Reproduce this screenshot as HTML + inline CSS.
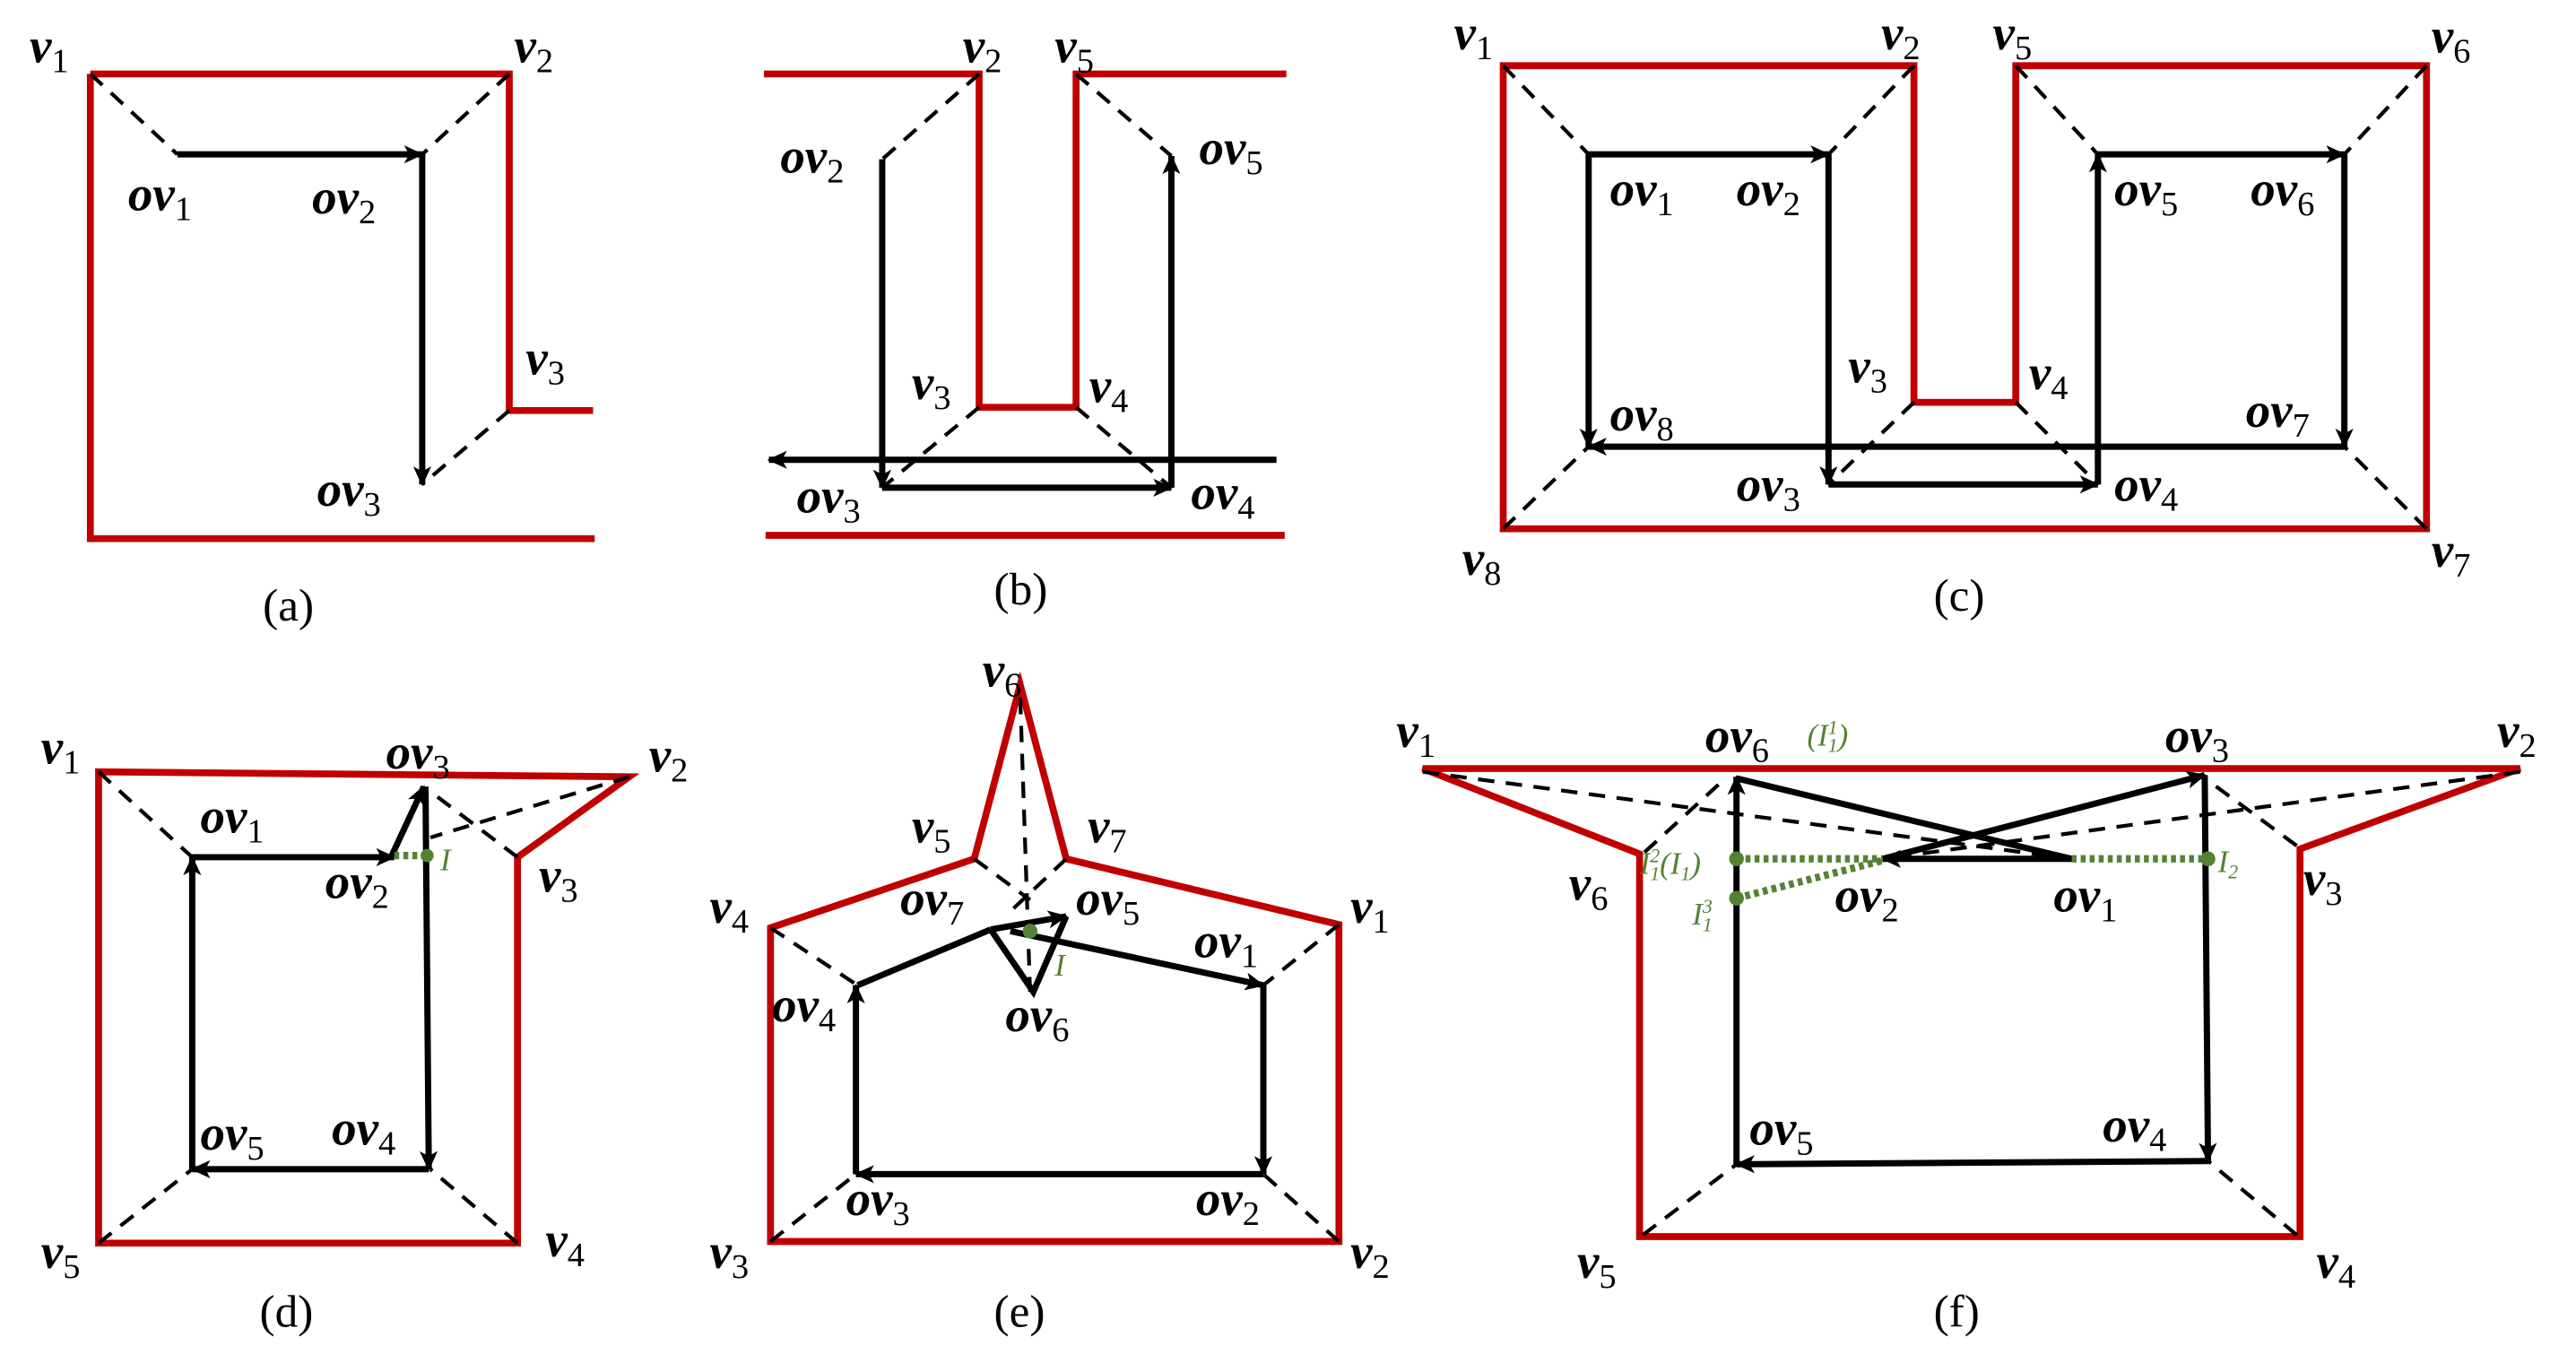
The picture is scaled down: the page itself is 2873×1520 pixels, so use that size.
<!DOCTYPE html>
<html><head><meta charset="utf-8"><style>
html,body{margin:0;padding:0;background:#fff;}
svg{display:block;}
text{font-family:"Liberation Serif",serif;}
.v{font-weight:bold;font-style:italic;font-size:30px;}
.s{font-size:21px;font-weight:normal;font-style:normal;}
.cap{font-size:28px;}
.r{fill:none;stroke:#c00000;stroke-width:4.2;stroke-linejoin:miter;}
.k{fill:none;stroke:#000;stroke-width:3.8;}
.d{fill:none;stroke:#000;stroke-width:2.3;stroke-dasharray:10,7;}
.g{fill:none;stroke:#548235;stroke-width:4.5;stroke-dasharray:3,2.5;}
.gt{fill:#548235;font-style:italic;font-size:19px;}
</style></head><body>
<svg width="2873" height="1520" viewBox="0 0 1568 830" preserveAspectRatio="none">
<defs>
<marker id="a" markerWidth="13" markerHeight="11" refX="11" refY="5.5" orient="auto" markerUnits="userSpaceOnUse">
<path d="M0,0 L12,5.5 L0,11 L3,5.5 Z" fill="#000"/></marker>
</defs>

<!-- (a) -->
<polyline class="r" points="55,45 310,45 310,250 361,250"/>
<polyline class="r" points="55,45 55,328 362,328"/>
<line class="d" x1="55" y1="45" x2="108" y2="94"/>
<line class="d" x1="310" y1="45" x2="257" y2="94"/>
<line class="d" x1="310" y1="250" x2="257" y2="295"/>
<line class="k" x1="108" y1="94" x2="257" y2="94" marker-end="url(#a)"/>
<line class="k" x1="257" y1="94" x2="257" y2="295" stroke-width="2.8" marker-end="url(#a)"/>
<text class="v" x="18" y="38">v<tspan class="s" dy="6">1</tspan></text>
<text class="v" x="313" y="38">v<tspan class="s" dy="6">2</tspan></text>
<text class="v" x="320" y="228">v<tspan class="s" dy="6">3</tspan></text>
<text class="v" x="78" y="128">ov<tspan class="s" dy="6">1</tspan></text>
<text class="v" x="190" y="130">ov<tspan class="s" dy="6">2</tspan></text>
<text class="v" x="193" y="308">ov<tspan class="s" dy="6">3</tspan></text>
<text class="cap" x="160" y="378">(a)</text>

<!-- (b) -->
<polyline class="r" points="465,45 596,45 596,248 655,248 655,45 783,45"/>
<line class="r" x1="466" y1="326" x2="782" y2="326"/>
<line class="d" x1="596" y1="45" x2="537" y2="97"/>
<line class="d" x1="655" y1="45" x2="713" y2="95"/>
<line class="d" x1="596" y1="248" x2="537" y2="297"/>
<line class="d" x1="655" y1="248" x2="713" y2="297"/>
<line class="k" x1="537" y1="97" x2="537" y2="297" stroke-width="2.8" marker-end="url(#a)"/>
<line class="k" x1="537" y1="297" x2="713" y2="297" marker-end="url(#a)"/>
<line class="k" x1="713" y1="297" x2="713" y2="95" marker-end="url(#a)"/>
<line class="k" x1="777" y1="280" x2="468" y2="280" marker-end="url(#a)"/>
<text class="v" x="586" y="38">v<tspan class="s" dy="6">2</tspan></text>
<text class="v" x="642" y="38">v<tspan class="s" dy="6">5</tspan></text>
<text class="v" x="475" y="105">ov<tspan class="s" dy="6">2</tspan></text>
<text class="v" x="730" y="100">ov<tspan class="s" dy="6">5</tspan></text>
<text class="v" x="555" y="243">v<tspan class="s" dy="6">3</tspan></text>
<text class="v" x="663" y="245">v<tspan class="s" dy="6">4</tspan></text>
<text class="v" x="485" y="312">ov<tspan class="s" dy="6">3</tspan></text>
<text class="v" x="725" y="310">ov<tspan class="s" dy="6">4</tspan></text>
<text class="cap" x="605" y="368">(b)</text>

<!-- (c) -->
<polygon class="r" points="915,40 1165,40 1165,245 1227,245 1227,40 1477,40 1477,322 915,322"/>
<line class="d" x1="915" y1="40" x2="967" y2="94"/>
<line class="d" x1="1165" y1="40" x2="1113" y2="94"/>
<line class="d" x1="1227" y1="40" x2="1277" y2="94"/>
<line class="d" x1="1477" y1="40" x2="1427" y2="94"/>
<line class="d" x1="1165" y1="245" x2="1113" y2="295"/>
<line class="d" x1="1227" y1="245" x2="1277" y2="295"/>
<line class="d" x1="1477" y1="322" x2="1427" y2="272"/>
<line class="d" x1="915" y1="322" x2="967" y2="272"/>
<line class="k" x1="967" y1="94" x2="1113" y2="94" marker-end="url(#a)"/>
<line class="k" x1="1113" y1="94" x2="1113" y2="295" marker-end="url(#a)"/>
<line class="k" x1="1113" y1="295" x2="1277" y2="295" marker-end="url(#a)"/>
<line class="k" x1="1277" y1="295" x2="1277" y2="94" marker-end="url(#a)"/>
<line class="k" x1="1277" y1="94" x2="1427" y2="94" marker-end="url(#a)"/>
<line class="k" x1="1427" y1="94" x2="1427" y2="272" marker-end="url(#a)"/>
<line class="k" x1="1427" y1="272" x2="967" y2="272" marker-end="url(#a)"/>
<line class="k" x1="967" y1="94" x2="967" y2="272" marker-end="url(#a)"/>
<text class="v" x="885" y="30">v<tspan class="s" dy="6">1</tspan></text>
<text class="v" x="1145" y="30">v<tspan class="s" dy="6">2</tspan></text>
<text class="v" x="1213" y="30">v<tspan class="s" dy="6">5</tspan></text>
<text class="v" x="1480" y="32">v<tspan class="s" dy="6">6</tspan></text>
<text class="v" x="980" y="125">ov<tspan class="s" dy="6">1</tspan></text>
<text class="v" x="1057" y="125">ov<tspan class="s" dy="6">2</tspan></text>
<text class="v" x="1287" y="125">ov<tspan class="s" dy="6">5</tspan></text>
<text class="v" x="1370" y="125">ov<tspan class="s" dy="6">6</tspan></text>
<text class="v" x="1125" y="233">v<tspan class="s" dy="6">3</tspan></text>
<text class="v" x="1235" y="237">v<tspan class="s" dy="6">4</tspan></text>
<text class="v" x="980" y="262">ov<tspan class="s" dy="6">8</tspan></text>
<text class="v" x="1367" y="260">ov<tspan class="s" dy="6">7</tspan></text>
<text class="v" x="1057" y="305">ov<tspan class="s" dy="6">3</tspan></text>
<text class="v" x="1287" y="305">ov<tspan class="s" dy="6">4</tspan></text>
<text class="v" x="890" y="350">v<tspan class="s" dy="6">8</tspan></text>
<text class="v" x="1480" y="345">v<tspan class="s" dy="6">7</tspan></text>
<text class="cap" x="1177" y="372">(c)</text>

<!-- (d) -->
<polygon class="r" points="60,470 383,473 315,522 315,757 60,757"/>
<line class="d" x1="60" y1="470" x2="117" y2="522"/>
<line class="d" x1="383" y1="473" x2="262" y2="510"/>
<line class="d" x1="315" y1="522" x2="262" y2="482"/>
<line class="d" x1="315" y1="757" x2="262" y2="712"/>
<line class="d" x1="60" y1="757" x2="117" y2="712"/>
<line class="k" x1="117" y1="522" x2="240" y2="522" marker-end="url(#a)"/>
<line class="k" x1="238" y1="522" x2="258" y2="479" marker-end="url(#a)"/>
<line class="k" x1="259" y1="479" x2="261" y2="712" marker-end="url(#a)"/>
<line class="k" x1="261" y1="712" x2="117" y2="712" marker-end="url(#a)"/>
<line class="k" x1="117" y1="712" x2="117" y2="522" marker-end="url(#a)"/>
<line class="g" x1="240" y1="521" x2="260" y2="521"/>
<circle cx="260" cy="521" r="4" fill="#548235"/>
<text class="gt" x="268" y="530">I</text>
<text class="v" x="25" y="465">v<tspan class="s" dy="6">1</tspan></text>
<text class="v" x="235" y="468">ov<tspan class="s" dy="6">3</tspan></text>
<text class="v" x="395" y="470">v<tspan class="s" dy="6">2</tspan></text>
<text class="v" x="122" y="507">ov<tspan class="s" dy="6">1</tspan></text>
<text class="v" x="198" y="547">ov<tspan class="s" dy="6">2</tspan></text>
<text class="v" x="328" y="543">v<tspan class="s" dy="6">3</tspan></text>
<text class="v" x="122" y="700">ov<tspan class="s" dy="6">5</tspan></text>
<text class="v" x="202" y="697">ov<tspan class="s" dy="6">4</tspan></text>
<text class="v" x="25" y="772">v<tspan class="s" dy="6">5</tspan></text>
<text class="v" x="332" y="765">v<tspan class="s" dy="6">4</tspan></text>
<text class="cap" x="158" y="808">(d)</text>

<!-- (e) -->
<polygon class="r" points="469,565 593,523 621,417 649,523 815,563 815,756 469,756"/>
<line class="d" x1="621" y1="425" x2="627" y2="604"/>
<line class="d" x1="593" y1="523" x2="627" y2="548"/>
<line class="d" x1="649" y1="523" x2="615" y2="555"/>
<line class="d" x1="469" y1="565" x2="522" y2="600"/>
<line class="d" x1="815" y1="563" x2="769" y2="600"/>
<line class="d" x1="469" y1="756" x2="521" y2="715"/>
<line class="d" x1="815" y1="756" x2="769" y2="715"/>
<polyline class="k" points="522,600 603,566"/>
<line class="k" x1="603" y1="566" x2="649" y2="558" marker-end="url(#a)"/>
<polyline class="k" points="603,566 629,604 649,558"/>
<line class="k" x1="615" y1="567" x2="769" y2="600" marker-end="url(#a)"/>
<line class="k" x1="769" y1="600" x2="769" y2="715" marker-end="url(#a)"/>
<line class="k" x1="769" y1="715" x2="521" y2="715" marker-end="url(#a)"/>
<line class="k" x1="521" y1="715" x2="521" y2="600" marker-end="url(#a)"/>
<circle cx="627" cy="567" r="4.5" fill="#548235"/>
<text class="gt" x="642" y="594">I</text>
<text class="v" x="598" y="418">v<tspan class="s" dy="6">6</tspan></text>
<text class="v" x="555" y="513">v<tspan class="s" dy="6">5</tspan></text>
<text class="v" x="662" y="513">v<tspan class="s" dy="6">7</tspan></text>
<text class="v" x="432" y="562">v<tspan class="s" dy="6">4</tspan></text>
<text class="v" x="548" y="557">ov<tspan class="s" dy="6">7</tspan></text>
<text class="v" x="655" y="557">ov<tspan class="s" dy="6">5</tspan></text>
<text class="v" x="822" y="562">v<tspan class="s" dy="6">1</tspan></text>
<text class="v" x="727" y="583">ov<tspan class="s" dy="6">1</tspan></text>
<text class="v" x="470" y="622">ov<tspan class="s" dy="6">4</tspan></text>
<text class="v" x="612" y="628">ov<tspan class="s" dy="6">6</tspan></text>
<text class="v" x="515" y="740">ov<tspan class="s" dy="6">3</tspan></text>
<text class="v" x="728" y="740">ov<tspan class="s" dy="6">2</tspan></text>
<text class="v" x="432" y="772">v<tspan class="s" dy="6">3</tspan></text>
<text class="v" x="822" y="772">v<tspan class="s" dy="6">2</tspan></text>
<text class="cap" x="605" y="808">(e)</text>

<!-- (f) -->
<polygon class="r" points="866,468 1534,468 1400,517 1400,753 998,753 998,520"/>
<line class="d" x1="866" y1="470" x2="1261" y2="523"/>
<line class="d" x1="1534" y1="470" x2="1146" y2="523"/>
<line class="d" x1="1001" y1="519" x2="1048" y2="476"/>
<line class="d" x1="1398" y1="515" x2="1345" y2="476"/>
<line class="d" x1="1398" y1="752" x2="1344" y2="707"/>
<line class="d" x1="1000" y1="752" x2="1057" y2="709"/>
<line class="k" x1="1057" y1="474" x2="1261" y2="523"/>
<line class="k" x1="1261" y1="523" x2="1146" y2="523" marker-end="url(#a)"/>
<line class="k" x1="1146" y1="523" x2="1342" y2="472" marker-end="url(#a)"/>
<line class="k" x1="1342" y1="472" x2="1344" y2="707" stroke-width="2.8" marker-end="url(#a)"/>
<line class="k" x1="1344" y1="707" x2="1057" y2="709" marker-end="url(#a)"/>
<line class="k" x1="1057" y1="709" x2="1057" y2="473" stroke-width="2.8" marker-end="url(#a)"/>
<line class="g" x1="1057" y1="523" x2="1146" y2="523"/>
<line class="g" x1="1261" y1="523" x2="1344" y2="523"/>
<line class="g" x1="1057" y1="547" x2="1146" y2="524"/>
<circle cx="1057" cy="523" r="4.5" fill="#548235"/>
<circle cx="1057" cy="547" r="4.5" fill="#548235"/>
<circle cx="1344" cy="523" r="4.5" fill="#548235"/>
<text class="v" x="850" y="455">v<tspan class="s" dy="6">1</tspan></text>
<text class="v" x="1038" y="458">ov<tspan class="s" dy="6">6</tspan></text>
<text class="gt" x="1100" y="454">(I<tspan font-size="12" dy="4">1</tspan><tspan font-size="12" dx="-6" dy="-11">1</tspan><tspan dy="7">)</tspan></text>
<text class="v" x="1318" y="458">ov<tspan class="s" dy="6">3</tspan></text>
<text class="v" x="1520" y="455">v<tspan class="s" dy="6">2</tspan></text>
<text class="gt" x="998" y="532">I<tspan font-size="12" dy="4">1</tspan><tspan font-size="12" dx="-6" dy="-11">2</tspan><tspan dy="7">(I</tspan><tspan font-size="12" dy="4">1</tspan><tspan dy="-4">)</tspan></text>
<text class="gt" x="1030" y="563">I<tspan font-size="12" dy="4">1</tspan><tspan font-size="12" dx="-6" dy="-11">3</tspan></text>
<text class="gt" x="1350" y="531">I<tspan font-size="12" dy="4">2</tspan></text>
<text class="v" x="955" y="548">v<tspan class="s" dy="6">6</tspan></text>
<text class="v" x="1117" y="555">ov<tspan class="s" dy="6">2</tspan></text>
<text class="v" x="1250" y="555">ov<tspan class="s" dy="6">1</tspan></text>
<text class="v" x="1402" y="545">v<tspan class="s" dy="6">3</tspan></text>
<text class="v" x="1065" y="697">ov<tspan class="s" dy="6">5</tspan></text>
<text class="v" x="1280" y="695">ov<tspan class="s" dy="6">4</tspan></text>
<text class="v" x="960" y="778">v<tspan class="s" dy="6">5</tspan></text>
<text class="v" x="1410" y="778">v<tspan class="s" dy="6">4</tspan></text>
<text class="cap" x="1177" y="808">(f)</text>
</svg>
</body></html>
